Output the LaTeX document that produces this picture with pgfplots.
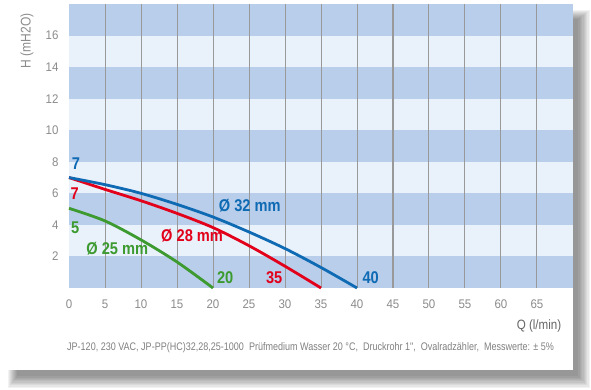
\documentclass[border=0pt]{standalone}
\usepackage{pgfplots}
\pgfplotsset{compat=1.18}
\usepackage{fontspec}
\setmainfont{Liberation Sans}
\newfontfamily\narrow[FakeStretch=0.86]{Liberation Sans}
\newfontfamily\tnarrow[FakeStretch=0.92]{Liberation Sans}
\newfontfamily\fnarrow[FakeStretch=0.82]{Liberation Sans}
\definecolor{cblue}{HTML}{0F6AB4}
\definecolor{cred}{HTML}{E2001A}
\definecolor{cgreen}{HTML}{3C9A2F}
\definecolor{banddark}{HTML}{B8CEEA}
\definecolor{bandlight}{HTML}{E9F1FB}
\definecolor{tickgray}{HTML}{8C8C8C}
\definecolor{gridgray}{HTML}{999999}
\begin{document}
\begin{tikzpicture}
\useasboundingbox (0pt,0pt) rectangle (591pt,390pt);
\foreach \k in {0,...,9} {
  \fill[black,opacity=0.05] ({8pt+\k pt},{2pt+1.3*\k pt}) rectangle ({590pt-1.3*\k pt},{380pt-\k pt});
}
\fill[white] (0pt,20pt) rectangle (573pt,390pt);
\begin{axis}[
  at={(69pt,102pt)}, anchor=south west,
  scale only axis, width=504pt, height=284pt,
  xmin=0, xmax=70, ymin=0, ymax=18,
  axis line style={draw=none},
  major tick length=0pt,
  xtick={0,5,...,65}, ytick={2,4,...,16},
  axis background/.style={fill=bandlight},
  /pgf/number format/assume math mode=true,
  tick label style={font=\tnarrow\fontsize{12.5}{14}\selectfont, text=tickgray},
  xticklabel style={yshift=-8pt},
  yticklabel style={xshift=-7pt},
  clip=false,
]
\fill[banddark] (axis cs:0,0) rectangle (axis cs:70,2);
\fill[banddark] (axis cs:0,4) rectangle (axis cs:70,6);
\fill[banddark] (axis cs:0,8) rectangle (axis cs:70,10);
\fill[banddark] (axis cs:0,12) rectangle (axis cs:70,14);
\fill[banddark] (axis cs:0,16) rectangle (axis cs:70,18);
\pgfplotsinvokeforeach{5,10,15,20,25,30,35,40,45,50,55,60,65}{
  \draw[gridgray, line width=1pt] (axis cs:#1,0) -- (axis cs:#1,18);
}
\addplot[cgreen, line width=2.8pt, smooth] coordinates {
 (0,5.05) (5,4.25) (10,3.05) (15,1.65) (20,0)};
\addplot[cred, line width=2.8pt, smooth] coordinates {
 (0,7) (5,6.25) (10,5.53) (15,4.73) (20,3.83) (25,2.68) (30,1.38) (35,0)};
\addplot[cblue, line width=2.8pt, smooth] coordinates {
 (0,7) (5,6.55) (10,6.0) (15,5.3) (20,4.5) (25,3.55) (30,2.5) (35,1.3) (40,0)};
\tikzset{lab/.style={font=\narrow\bfseries\fontsize{17}{19}\selectfont}}
\node[lab, text=cblue] at (axis cs:0.97,7.9) {7};
\node[lab, text=cred] at (axis cs:0.8,6.0) {7};
\node[lab, text=cgreen] at (axis cs:0.85,3.8) {5};
\node[lab, text=cgreen] at (axis cs:6.7,2.5) {Ø 25 mm};
\node[lab, text=cred] at (axis cs:17.1,3.3) {Ø 28 mm};
\node[lab, text=cblue] at (axis cs:25.1,5.2) {Ø 32 mm};
\node[lab, text=cgreen] at (axis cs:21.7,0.67) {20};
\node[lab, text=cred] at (axis cs:28.5,0.67) {35};
\node[lab, text=cblue] at (axis cs:41.9,0.67) {40};
\end{axis}
\node[rotate=90, font=\narrow\fontsize{14}{16}\selectfont, text=tickgray] at (27pt,349pt) {H (mH2O)};
\node[font=\narrow\fontsize{13.5}{15}\selectfont, text=black!60] at (539pt,64pt) {Q (l/min)};
\node[anchor=west, inner sep=0pt, font=\fnarrow\fontsize{11}{13}\selectfont, text=black!50] at (67pt,42pt) {JP-120, 230 VAC, JP-PP(HC)32,28,25-1000\ \ Prüfmedium Wasser 20 °C,\ \ Druckrohr 1",\ \ Ovalradzähler,\ \ Messwerte: ± 5\%};
\end{tikzpicture}
\end{document}
